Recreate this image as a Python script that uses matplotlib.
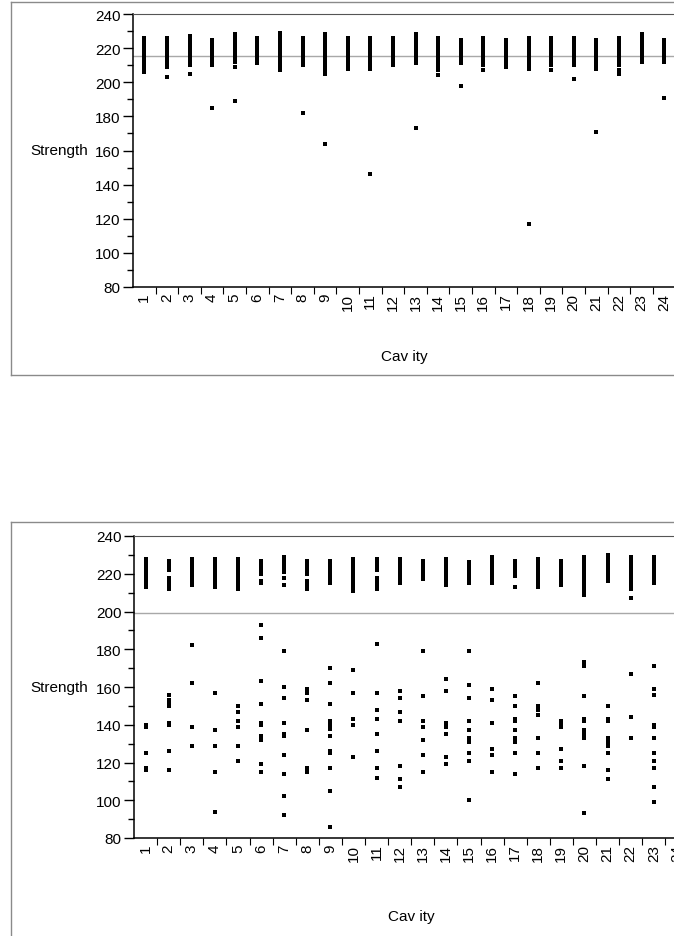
import matplotlib
matplotlib.use("Agg")
from matplotlib import pyplot as plt
from matplotlib.lines import Line2D
import matplotlib.transforms as mtransforms

plt.rcParams["font.family"] = ["Liberation Sans", "DejaVu Sans"]

cavities = [str(i) for i in range(1, 25)]

# strength values per cavity, first study
strength_a = [
    [226, 225, 224, 223, 221, 220, 219, 218, 217, 216, 215, 214, 213, 212, 211, 210, 209, 208, 206],
    [226, 225, 224, 223, 222, 221, 220, 218, 217, 216, 215, 214, 213, 212, 211, 210, 209, 203],
    [227, 226, 225, 224, 223, 222, 221, 220, 219, 218, 217, 216, 215, 214, 213, 212, 211, 210, 205],
    [225, 224, 223, 222, 221, 220, 218, 217, 216, 215, 214, 213, 212, 211, 210, 185],
    [228, 227, 226, 225, 224, 223, 222, 221, 220, 219, 218, 217, 216, 215, 214, 213, 212, 209, 189],
    [226, 225, 224, 222, 221, 220, 219, 218, 217, 216, 215, 214, 213, 212, 211],
    [229, 228, 227, 226, 225, 224, 223, 222, 221, 220, 219, 218, 217, 216, 215, 214, 213, 212, 211, 210, 209, 207],
    [226, 225, 223, 222, 221, 220, 219, 218, 217, 216, 215, 214, 213, 212, 211, 210, 182],
    [228, 227, 226, 225, 223, 222, 221, 220, 219, 218, 217, 216, 215, 214, 213, 212, 210, 208, 207, 205, 164],
    [226, 225, 223, 222, 221, 220, 218, 217, 216, 215, 214, 213, 212, 211, 210, 208],
    [226, 225, 224, 222, 221, 219, 218, 217, 216, 215, 214, 213, 212, 211, 210, 208, 146],
    [226, 225, 224, 222, 221, 220, 219, 218, 217, 216, 215, 214, 213, 212, 211, 210],
    [228, 227, 226, 225, 224, 223, 222, 221, 220, 219, 218, 217, 216, 215, 214, 213, 212, 211, 173],
    [226, 225, 224, 222, 221, 220, 219, 217, 216, 215, 214, 213, 212, 211, 210, 209, 207, 204],
    [225, 224, 223, 222, 221, 220, 219, 218, 217, 216, 215, 214, 213, 212, 211, 198],
    [226, 225, 224, 223, 221, 220, 219, 218, 217, 216, 215, 214, 213, 212, 211, 210, 207],
    [225, 224, 223, 222, 221, 220, 219, 218, 217, 216, 215, 214, 213, 212, 211, 210, 209],
    [226, 225, 224, 223, 222, 221, 220, 219, 218, 217, 216, 215, 214, 213, 212, 211, 210, 208, 117],
    [226, 225, 224, 223, 222, 221, 220, 219, 218, 217, 216, 215, 214, 213, 212, 211, 210, 207],
    [226, 225, 224, 222, 221, 220, 219, 218, 217, 216, 215, 214, 213, 212, 211, 210, 202],
    [225, 224, 223, 222, 221, 220, 219, 218, 217, 216, 215, 214, 213, 212, 211, 210, 208, 171],
    [226, 225, 224, 223, 222, 221, 220, 219, 218, 217, 216, 215, 214, 213, 212, 211, 210, 207, 205],
    [228, 227, 226, 225, 224, 223, 222, 221, 220, 219, 218, 217, 216, 215, 214, 213, 212],
    [225, 224, 222, 221, 220, 219, 218, 217, 216, 215, 214, 213, 212, 191],
]
mean_a = 215.6

# strength values per cavity, second study (good parts + weak parts)
strength_b = [
    [228, 227, 226, 225, 224, 223, 222, 221, 219, 218, 217, 216, 215, 214, 213, 140, 139, 125, 117, 116],
    [227, 226, 225, 224, 223, 222, 218, 217, 216, 215, 214, 213, 212, 156, 153, 151, 150, 141, 140, 126, 116],
    [228, 227, 226, 225, 224, 223, 222, 221, 220, 218, 217, 216, 215, 214, 182, 162, 139, 129],
    [228, 227, 226, 225, 224, 223, 222, 221, 220, 219, 217, 216, 215, 214, 213, 157, 137, 129, 115, 94],
    [228, 227, 226, 225, 224, 223, 222, 221, 220, 219, 218, 217, 216, 215, 214, 213, 212,
     150, 147, 142, 139, 129, 121],
    [227, 226, 225, 224, 223, 222, 221, 220, 216, 215, 193, 186, 163, 151, 141, 140, 134, 132, 119, 115],
    [229, 228, 227, 226, 225, 224, 223, 222, 221, 218, 214, 179, 160, 154, 141, 135, 134, 124, 114, 102, 92],
    [227, 226, 225, 224, 223, 222, 221, 220, 216, 215, 214, 213, 212, 159, 157, 153, 137, 117, 115],
    [227, 226, 225, 223, 222, 221, 220, 219, 218, 217, 216, 215,
     170, 162, 151, 142, 140, 138, 134, 126, 125, 117, 105, 86],
    [228, 227, 226, 225, 224, 223, 222, 221, 220, 219, 218, 216, 215, 214, 212, 211, 169, 157, 143, 140, 123],
    [228, 227, 226, 225, 224, 223, 222, 218, 217, 216, 215, 214, 213, 212, 183, 157, 148, 143, 135, 126, 117, 112],
    [228, 227, 226, 225, 224, 223, 222, 221, 220, 219, 218, 217, 216, 215, 158, 154, 147, 142, 118, 111, 107],
    [227, 226, 225, 224, 223, 222, 221, 220, 219, 218, 217, 179, 155, 142, 139, 132, 124, 115],
    [228, 227, 226, 225, 224, 223, 222, 221, 220, 218, 217, 216, 215, 214, 164, 158, 141, 139, 135, 123, 119],
    [226, 225, 224, 223, 222, 221, 220, 219, 218, 217, 215, 179, 161, 154, 142, 137, 133, 131, 125, 121, 100],
    [229, 228, 227, 226, 225, 224, 223, 222, 221, 220, 218, 216, 215, 159, 153, 141, 127, 124, 115],
    [227, 226, 225, 224, 223, 222, 221, 220, 219, 213, 155, 150, 143, 142, 137, 133, 131, 125, 114],
    [228, 227, 226, 225, 224, 223, 222, 221, 220, 219, 218, 216, 215, 214, 213, 162, 150, 148, 145, 133, 125, 117],
    [227, 226, 225, 224, 223, 222, 221, 220, 219, 218, 217, 216, 215, 214, 142, 141, 139, 127, 121, 117],
    [229, 228, 227, 226, 225, 224, 223, 222, 221, 220, 219, 217, 216, 215, 213, 211, 209,
     173, 171, 155, 143, 142, 137, 135, 133, 118, 93],
    [230, 229, 228, 227, 226, 225, 224, 223, 222, 221, 219, 218, 216,
     150, 143, 142, 133, 131, 129, 125, 116, 111],
    [229, 228, 227, 226, 225, 224, 223, 222, 221, 220, 219, 218, 217, 216, 214, 212, 207, 167, 144, 133],
    [229, 228, 227, 226, 225, 224, 223, 222, 220, 219, 218, 216, 215,
     171, 159, 156, 140, 139, 133, 125, 121, 117, 107, 99],
    [227, 226, 225, 224, 223, 222, 221, 220, 218, 216, 215, 214, 157, 152, 150, 148, 146, 130, 117],
]
mean_b = 199.2

W, H = 674, 937
# small flat rectangle used as the point marker
punto = [(-1, -0.7), (1, -0.7), (1, 0.7), (-1, 0.7)]


def dibuja_panel(fig, rect, valores, media, y_cavity):
    ax = fig.add_axes(rect)
    for i, lista in enumerate(valores):
        ax.plot([i + 1] * len(lista), lista, linestyle="none", marker=punto,
                markersize=3.2, color="black", markeredgewidth=0)
    ax.axhline(media, color="#a8a8a8", linewidth=1.0, zorder=0)

    ax.set_xlim(0.5, 24.5)
    ax.set_ylim(80, 240)
    ax.set_yticks(range(80, 241, 20))
    ax.set_yticks(range(90, 240, 20), minor=True)
    ax.set_xticks(range(1, 25))
    ax.set_xticklabels(cavities, rotation=90, va="top", ha="center")
    ax.set_xticks([i + 0.5 for i in range(1, 24)], minor=True)

    ax.tick_params(axis="y", which="major", direction="out", length=7, width=1,
                   pad=2, labelsize=11)
    ax.tick_params(axis="y", which="minor", direction="out", length=4, width=1)
    ax.tick_params(axis="x", which="major", length=0, pad=4, labelsize=11)
    ax.tick_params(axis="x", which="minor", direction="out", length=5, width=0.8)

    ax.spines["right"].set_visible(False)
    ax.spines["top"].set_color("#555555")
    ax.spines["left"].set_linewidth(1.1)
    ax.spines["bottom"].set_linewidth(1.1)

    # y title sits beside the 160 tick label
    trans = mtransforms.blended_transform_factory(fig.transFigure, ax.transData)
    ax.text(88 / W, 160, "Strength", transform=trans, ha="right", va="center",
            fontsize=11)
    fig.text(rect[0] + rect[2] / 2, 1 - y_cavity / H, "Cav ity", ha="center",
             va="top", fontsize=11)
    return ax


def marco(fig, x0, y0, y1):
    # grey frame around each panel (right side runs past the figure edge)
    fig.add_artist(Line2D([x0 / W, x0 / W], [1 - y0 / H, 1 - y1 / H],
                          transform=fig.transFigure, color="#8a8a8a", linewidth=1))
    fig.add_artist(Line2D([x0 / W, 1.0], [1 - y0 / H, 1 - y0 / H],
                          transform=fig.transFigure, color="#8a8a8a", linewidth=1))
    if y1 < H:
        fig.add_artist(Line2D([x0 / W, 1.0], [1 - y1 / H, 1 - y1 / H],
                              transform=fig.transFigure, color="#8a8a8a", linewidth=1))


fig = plt.figure(figsize=(W / 100, H / 100), dpi=100)

marco(fig, 11, 3, 376)
marco(fig, 11, 523, H + 5)

dibuja_panel(fig, [133 / W, 1 - 288 / H, 24 * 22.6 / W, 273 / H], strength_a, mean_a, 350)
dibuja_panel(fig, [134 / W, 1 - 839 / H, 24 * 23.1 / W, 302 / H], strength_b, mean_b, 910)

fig.savefig("out.png", dpi=100)
